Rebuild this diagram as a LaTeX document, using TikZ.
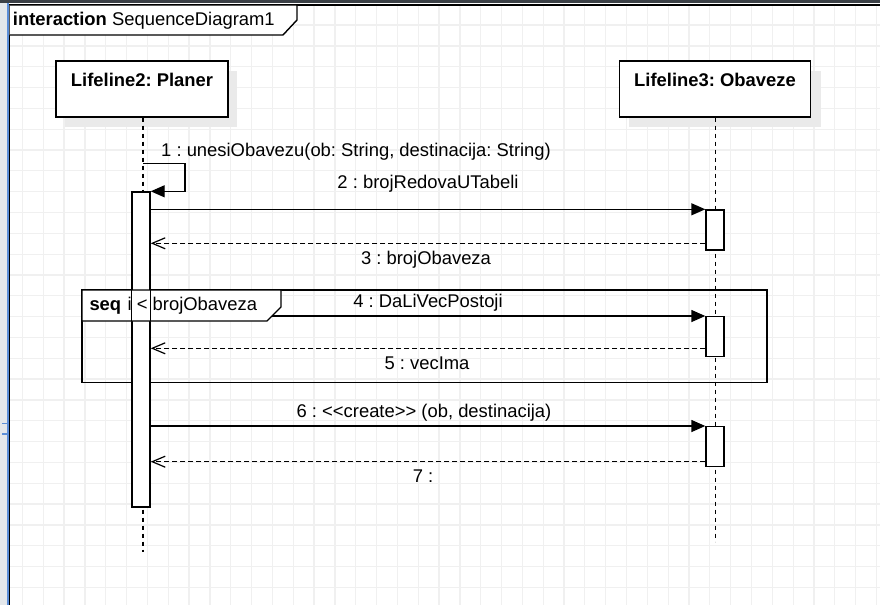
\documentclass[tikz,border=0pt]{standalone}
\usepackage{fontspec}
\setmainfont{Liberation Sans}
\usetikzlibrary{arrows.meta,calc}
\definecolor{gridc}{HTML}{F0F0F0}
\definecolor{shadowc}{HTML}{EAEAEA}
\definecolor{topbar}{HTML}{3B4046}
\definecolor{leftstrip}{HTML}{E3E7EB}
\definecolor{bluebar}{HTML}{5B8ED8}
\begin{document}
\frenchspacing
\begin{tikzpicture}[x=1pt,y=-1pt, font=\fontsize{18.4}{21}\selectfont,
  gridline/.style={draw=gridc, line width=1.3pt},
  box/.style={draw=black, fill=white, line width=1.4pt, inner sep=0pt},
  actbar/.style={box, minimum width=18pt},
  life/.style={draw=black, line width=1.4pt, dash pattern=on 4pt off 4pt},
  msg/.style={draw=black, line width=1.4pt, -{Triangle[length=14pt,width=12pt]}},
  ret/.style={draw=black, line width=1.2pt, dash pattern=on 5pt off 3pt, -{Straight Barb[length=13pt,width=11pt,line width=1.2pt]}},
  lbl/.style={inner sep=0pt, anchor=base}]
\useasboundingbox (0,0) rectangle (880,605);
\fill[white] (0,0) rectangle (880,605);
% grid
\foreach \i in {1,...,42} \draw[gridline] ({1.6+20.83*\i},5) -- ({1.6+20.83*\i},605);
\foreach \j in {1,...,29} \draw[gridline] (10,{4.2+20.83*\j}) -- (880,{4.2+20.83*\j});
% window chrome
\fill[topbar] (0,0) rectangle (880,3.3);
\fill[leftstrip] (0,3.3) rectangle (6.5,605);
\fill[bluebar] (6.5,3.3) rectangle (9,605);
\draw[bluebar, line width=1.5pt] (2,423.5) -- (7,423.5) (2,434) -- (7,434);
% interaction frame
\draw[black, line width=1.4pt] (880,5) -- (9.5,5) -- (9.5,605);
\draw[box] (9.5,5) -- (297,5) -- (297,20) -- (283,35) -- (9.5,35);
\node[lbl, anchor=base west] (ttl) at (12.7,25) {\textbf{interaction} SequenceDiagram1};
% lifeline heads
\fill[shadowc] (65,71) rectangle (237,127);
\fill[shadowc] (629,71) rectangle (820.7,127);
\node[box, minimum width=172pt, minimum height=56pt] (pl) at (142,89) {};
\node[lbl] (plt) at (142,86) {\textbf{Lifeline2: Planer}};
\node[box, minimum width=191.4pt, minimum height=56pt] (ob) at (715,89) {};
\node[lbl] (obt) at (715,86) {\textbf{Lifeline3: Obaveze}};
% lifelines
\coordinate (plend) at (143,551.7);
\coordinate (obend) at (715.5,541.7);
\draw[life] (pl.south -| plend) -- (plend);
\draw[life] (ob.south -| obend) -- (obend);
% combined fragment
\draw[black, line width=1.4pt] (82,290) rectangle (767,382.7);
% activation bars
\node[actbar, minimum height=315pt] (apl) at (141,349.5) {};
\node[actbar, minimum height=40pt] (a1) at (715,230) {};
\node[actbar, minimum height=40pt] (a2) at (715,336.7) {};
\node[actbar, minimum height=40pt] (a3) at (715,446.7) {};
% self message 1
\coordinate (s1) at (143,163.7);
\coordinate (s1r) at (185,163.7);
\draw[msg] (s1) -- (s1r) |- (apl.north east);
\node[lbl, anchor=base west] (l1) at (161,156.7) {1 : unesiObavezu(ob: String, destinacija: String)};
% message 2 / return 3
\draw[msg] (apl.east |- a1.north) -- (a1.north west);
\node[lbl] (l2) at (428,188) {2 : brojRedovaUTabeli};
\coordinate (y3) at (0,243.3);
\draw[ret] (a1.west |- y3) -- (apl.east |- y3);
\node[lbl] (l3) at (426,264.5) {3 : brojObaveza};
% message 4 / return 5
\draw[msg] (apl.east |- a2.north) -- (a2.north west);
\node[lbl] (l4) at (428,307) {4 : DaLiVecPostoji};
\coordinate (y5) at (0,348.3);
\draw[ret] (a2.west |- y5) -- (apl.east |- y5);
\node[lbl] (l5) at (427,369.5) {5 : vecIma};
% message 6 / return 7
\draw[msg] (apl.east |- a3.north) -- (a3.north west);
\node[lbl] (l6) at (424,417.3) {6 : <{}<create>{}> (ob, destinacija)};
\coordinate (y7) at (0,461.7);
\draw[ret] (a3.west |- y7) -- (apl.east |- y7);
\node[lbl] (l7) at (423,482.3) {7 :};
% fragment label (over message 4, under the activation bar outline)
\draw[box] (82,290) -- (281,290) -- (281,307) -- (267,321) -- (82,321) -- cycle;
\draw[black, line width=1.4pt] (apl.north west |- 0,290) -- (apl.north west |- 0,321)
  (apl.north east |- 0,290) -- (apl.north east |- 0,321);
\node[lbl, anchor=base west] (fl) at (89.3,310.7) {\textbf{seq}\hspace{6.5pt}i < brojObaveza};
\end{tikzpicture}
\end{document}
